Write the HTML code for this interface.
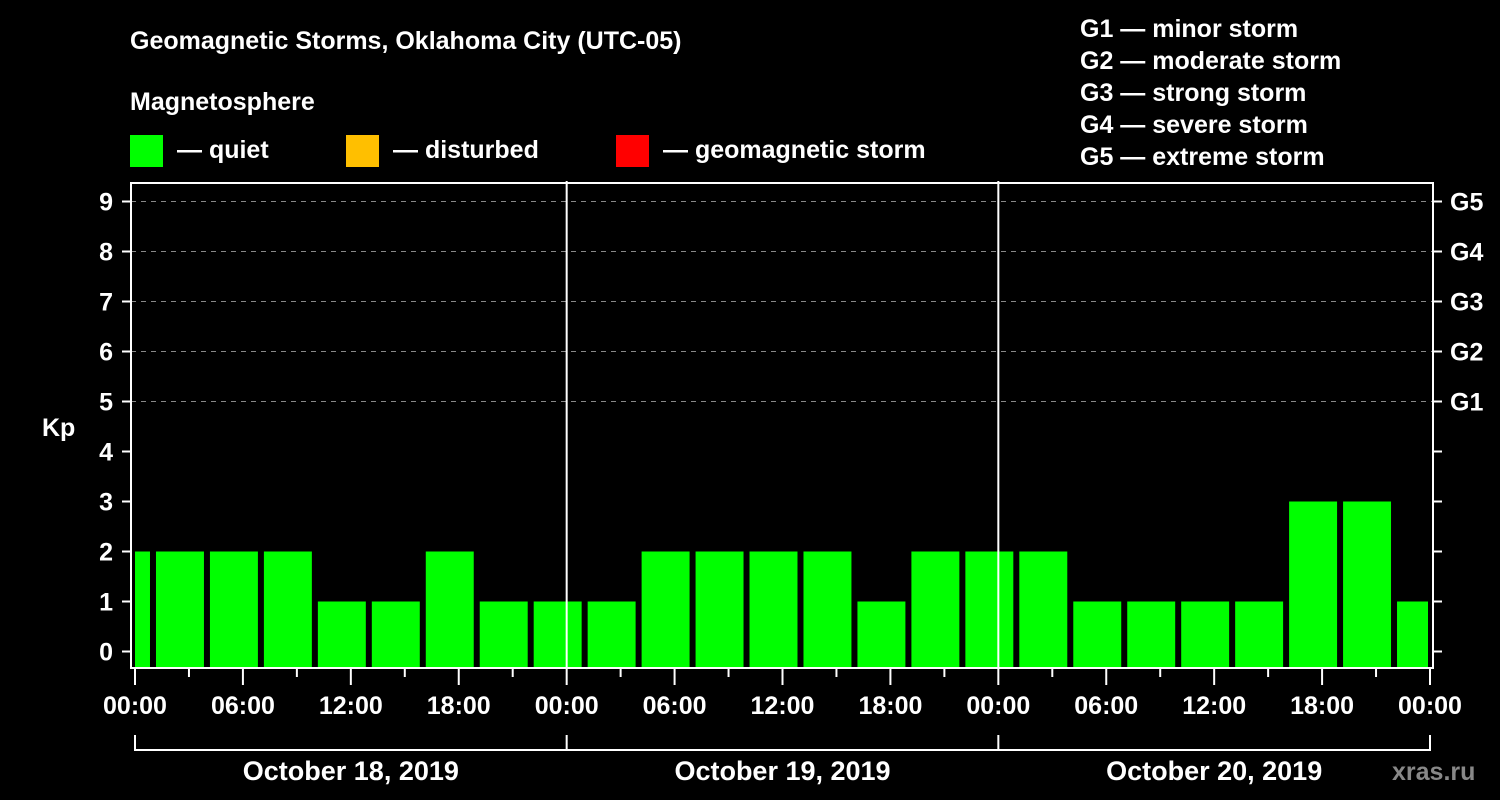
<!DOCTYPE html>
<html><head><meta charset="utf-8"><style>
html,body{margin:0;padding:0;background:#000;}
svg{display:block;font-family:"Liberation Sans",sans-serif;font-weight:bold;}
</style></head><body>
<svg id="chart" width="1500" height="800" viewBox="0 0 1500 800" xmlns="http://www.w3.org/2000/svg">
<rect x="0" y="0" width="1500" height="800" fill="#000"/>
<text x="130" y="49" fill="#fff" font-size="25">Geomagnetic Storms, Oklahoma City (UTC-05)</text>
<text x="130" y="110" fill="#fff" font-size="25">Magnetosphere</text>
<g><rect x="130" y="135" width="33" height="32" fill="#00ff00"/><text x="177" y="158" fill="#fff" font-size="25">— quiet</text></g>
<g><rect x="346" y="135" width="33" height="32" fill="#ffbf00"/><text x="393" y="158" fill="#fff" font-size="25">— disturbed</text></g>
<g><rect x="616" y="135" width="33" height="32" fill="#ff0000"/><text x="663" y="158" fill="#fff" font-size="25">— geomagnetic storm</text></g>
<g fill="#fff" font-size="25">
<text x="1080" y="37">G1 — minor storm</text>
<text x="1080" y="69">G2 — moderate storm</text>
<text x="1080" y="101">G3 — strong storm</text>
<text x="1080" y="133">G4 — severe storm</text>
<text x="1080" y="165">G5 — extreme storm</text>
</g>
<text x="42" y="436" fill="#fff" font-size="25">Kp</text>
<g id="grid"></g><g id="bars"></g><g id="axes"></g>
<text x="1392" y="780" fill="#888" font-size="25">xras.ru</text>
</svg>
<script>
const kpValues = [2, 2,2,2,1,1,2,1,1, 1,2,2,2,2,1,2,2, 2,1,1,1,1,3,3,1];
const barStartHours = [-2, 1,4,7,10,13,16,19,22, 25,28,31,34,37,40,43,46, 49,52,55,58,61,64,67,70];
const yTicks = [0,1,2,3,4,5,6,7,8,9];
const gLabels = ["","","","","","G1","G2","G3","G4","G5"];
const xTickLabels = ["00:00","06:00","12:00","18:00","00:00","06:00","12:00","18:00","00:00","06:00","12:00","18:00","00:00"];
const dayLabels = ["October 18, 2019","October 19, 2019","October 20, 2019"];

const NS="http://www.w3.org/2000/svg";
const L=131,R=1433,T=183,B=668,X0=135,X1=1430;
const x=h=>X0+(X1-X0)*h/72;
const y=v=>651.5-50*v;
function mk(tag,attrs,parent){const e=document.createElementNS(NS,tag);for(const k in attrs)e.setAttribute(k,attrs[k]);parent.appendChild(e);return e;}
const grid=document.getElementById('grid'),bars=document.getElementById('bars'),axes=document.getElementById('axes');
yTicks.forEach(v=>{
  if(v>=5){const g=mk('line',{x1:L,x2:R,y1:y(v),y2:y(v),stroke:'#888','stroke-width':1,'stroke-dasharray':'5,5'},grid);
  
  }
  const t=mk('line',{x1:122,x2:L,y1:y(v),y2:y(v),stroke:'#fff','stroke-width':2},axes);
  
  
  const t2=mk('line',{x1:R,x2:1442,y1:y(v),y2:y(v),stroke:'#fff','stroke-width':2},axes);
  
  
  const lb=mk('text',{x:113,y:y(v)+9,fill:'#fff','font-size':25,'text-anchor':'end'},axes);lb.textContent=v;
  
  
  if(gLabels[v]){const gl=mk('text',{x:1450,y:y(v)+9,fill:'#fff','font-size':25},axes);gl.textContent=gLabels[v];
  
  }
});
kpValues.forEach((v,i)=>{
  const h0=barStartHours[i];
  let a=x(h0)+3,b=x(h0+3)-3;
  a=Math.max(a,X0);b=Math.min(b,1428);
  const c=v>=5?'#ff0000':(v>=4?'#ffbf00':'#00ff00');
  const r=mk('rect',{x:a,y:y(v),width:b-a,height:B-y(v),fill:c},bars);
  
  
});
[24,48].forEach(h=>{const d=mk('line',{x1:x(h),x2:x(h),y1:181,y2:B,stroke:'#fff','stroke-width':2},axes);
  
  });
const frame=mk('rect',{x:L,y:T,width:R-L,height:B-T,fill:'none',stroke:'#fff','stroke-width':2},axes);


for(let h=0;h<=72;h+=3){
  const long=h%6===0;
  const t=mk('line',{x1:x(h),x2:x(h),y1:B,y2:long?685:677,stroke:'#fff','stroke-width':2},axes);
  
  
}
xTickLabels.forEach((s,i)=>{const t=mk('text',{x:x(i*6),y:714,fill:'#fff','font-size':25,'text-anchor':'middle'},axes);t.textContent=s;
  
  });
const br=mk('path',{d:`M${x(0)},735V750H${x(72)}V735M${x(24)},735V750M${x(48)},735V750`,fill:'none',stroke:'#fff','stroke-width':2},axes);


dayLabels.forEach((s,i)=>{const t=mk('text',{x:x(i*24+12),y:780,fill:'#fff','font-size':27,'text-anchor':'middle'},axes);t.textContent=s;
  
  });
</script>
</body></html>
